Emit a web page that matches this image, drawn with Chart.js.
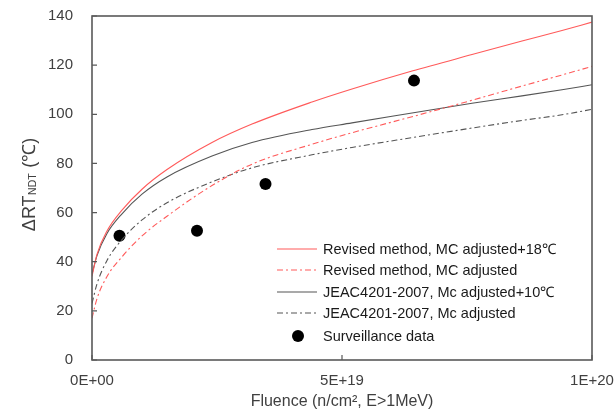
<!DOCTYPE html>
<html><head><meta charset="utf-8">
<script src="https://cdn.jsdelivr.net/npm/chart.js@4"></script>
<style>html,body{margin:0;padding:0;background:#fff}#wrap{width:615px;height:414px}</style>
</head><body><div id="wrap"><canvas id="c" width="615" height="414"></canvas></div>
<script>
// Fluence sample points (n/cm², E>1MeV)
const fluence = [0, 1e18, 3e18, 6e18, 1e19, 1.5e19, 2.4e19, 3.2e19, 4.4e19, 5.2e19, 6.4e19, 7.6e19, 8.6e19, 9.4e19, 1e20];
// ΔRT_NDT (°C)
const revisedPlus18 = [34, 43, 52.5, 61, 69.5, 77.5, 88.5, 96, 105, 110.3, 117.6, 124.3, 129.8, 134.1, 137.5];
const revised       = [17, 25, 34, 42, 50.5, 58.5, 71, 79.7, 87.8, 92.5, 99, 105.7, 111.5, 116, 119.5];
const jeacPlus10    = [35, 42.5, 51.5, 59.5, 67.5, 74.5, 83, 88.5, 93.8, 96.5, 100.5, 104.5, 107.5, 110, 112];
const jeac          = [23, 31, 40.5, 49, 57, 64, 72.5, 78.2, 83.5, 86.5, 90.5, 94.4, 97.5, 99.8, 102];
// Surveillance data
const survFluence = [5.5e18, 2.1e19, 3.47e19, 6.44e19];
const survDelta   = [50.6, 52.6, 71.6, 113.7];

const seriesLabels = [
  'Revised method, MC adjusted+18\u2103',
  'Revised method, MC adjusted',
  'JEAC4201-2007, Mc adjusted+10\u2103',
  'JEAC4201-2007, Mc adjusted',
  'Surveillance data'
];
const xTickLabels = ['0E+00', '5E+19', '1E+20'];
const yTicks = [0, 20, 40, 60, 80, 100, 120, 140];
const xTitle = 'Fluence (n/cm\u00B2, E>1MeV)';
const yTitleMain = '\u0394RT', yTitleSub = 'NDT', yTitleUnit = ' (\u2103)';

const FONT = "'Liberation Sans', Arial, sans-serif";
const RED = '#ff5a5a', GRAY = '#555555';

function pts(xs, ys){ return xs.map((x,i)=>({x:x, y:ys[i]})); }

const lineStyles = [
  {color: RED, dash: []},
  {color: RED, dash: [6,3,2,3]},
  {color: GRAY, dash: []},
  {color: GRAY, dash: [6,3,2,3]}
];
const curves = [revisedPlus18, revised, jeacPlus10, jeac];

const datasets = curves.map((ys,i)=>({
  label: seriesLabels[i],
  data: pts(fluence, ys),
  showLine: true,
  borderColor: lineStyles[i].color,
  borderWidth: 1.1,
  borderDash: lineStyles[i].dash,
  pointRadius: 0,
  cubicInterpolationMode: 'monotone',
  fill: false
}));
datasets.push({
  label: seriesLabels[4],
  data: pts(survFluence, survDelta),
  showLine: false,
  pointRadius: 6,
  pointBackgroundColor: '#000',
  pointBorderColor: '#000',
  pointBorderWidth: 0
});

const decor = {
  id: 'decor',
  afterDraw(chart){
    const ctx = chart.ctx, a = chart.chartArea;
    const xs = chart.scales.x, ys = chart.scales.y;
    ctx.save();
    // frame
    ctx.strokeStyle = '#595959'; ctx.lineWidth = 1.6; ctx.setLineDash([]);
    ctx.strokeRect(a.left, a.top, a.right - a.left, a.bottom - a.top);
    // inward ticks
    ctx.lineWidth = 1.2;
    ctx.beginPath();
    yTicks.forEach(v=>{ const y = ys.getPixelForValue(v); ctx.moveTo(a.left, y); ctx.lineTo(a.left+5, y); });
    [0, 5e19, 1e20].forEach(v=>{ const x = xs.getPixelForValue(v); ctx.moveTo(x, a.bottom); ctx.lineTo(x, a.bottom-5); });
    ctx.stroke();
    // x title
    ctx.fillStyle = '#404040';
    ctx.font = '16px ' + FONT;
    ctx.textAlign = 'center'; ctx.textBaseline = 'middle';
    ctx.fillText(xTitle, (a.left + a.right)/2, 402);
    // y title with subscript
    ctx.translate(35, 185);
    ctx.rotate(-Math.PI/2);
    ctx.textAlign = 'left'; ctx.textBaseline = 'alphabetic';
    const fMain = '18px ' + FONT, fSub = '10.5px ' + FONT;
    ctx.font = fMain; const w1 = ctx.measureText(yTitleMain).width, w3 = ctx.measureText(yTitleUnit).width;
    ctx.font = fSub; const w2 = ctx.measureText(yTitleSub).width;
    let x0 = -(w1 + w2 + w3)/2;
    ctx.font = fMain; ctx.fillText(yTitleMain, x0, 0);
    ctx.font = fSub; ctx.fillText(yTitleSub, x0 + w1 + 0.5, 1);
    ctx.font = fMain; ctx.fillText(yTitleUnit, x0 + w1 + w2 + 1, 0);
    ctx.restore();
    // legend
    ctx.save();
    const rows = [249, 270, 292, 313, 336];
    ctx.font = '14.5px ' + FONT; ctx.fillStyle = '#1a1a1a';
    ctx.textBaseline = 'middle'; ctx.textAlign = 'left';
    chart.data.datasets.forEach((ds,i)=>{
      const y = rows[i];
      if (i < 4){
        ctx.strokeStyle = ds.borderColor; ctx.lineWidth = 1.1; ctx.setLineDash(ds.borderDash);
        ctx.beginPath(); ctx.moveTo(277, y); ctx.lineTo(317, y); ctx.stroke();
      } else {
        ctx.fillStyle = '#000'; ctx.beginPath(); ctx.arc(298, y, 6, 0, Math.PI*2); ctx.fill();
        ctx.fillStyle = '#1a1a1a';
      }
      ctx.fillText(ds.label, 323, y + 0.5);
    });
    ctx.restore();
  }
};

new Chart(document.getElementById('c'), {
  type: 'scatter',
  data: { datasets },
  options: {
    responsive: false,
    animation: false,
    layout: { padding: { top: 16, right: 23, left: 0, bottom: 0 } },
    plugins: { legend: { display: false }, tooltip: { enabled: false } },
    scales: {
      x: {
        type: 'linear', min: 0, max: 1e20,
        grid: { display: false, drawTicks: false },
        border: { display: false },
        ticks: { stepSize: 5e19, padding: 12, color: '#404040', font: { size: 15, family: FONT },
                 maxRotation: 0, callback: (v, i) => xTickLabels[i] },
        afterFit: s => { s.height = 54; s.paddingLeft = 0; s.paddingRight = 0; }
      },
      y: {
        min: 0, max: 140,
        grid: { display: false, drawTicks: false },
        border: { display: false },
        ticks: { stepSize: 20, padding: 19, color: '#404040', font: { size: 15, family: FONT } },
        afterFit: s => { s.width = 92; s.paddingTop = 0; s.paddingBottom = 0; }
      }
    }
  },
  plugins: [decor]
});
</script>
</body></html>
